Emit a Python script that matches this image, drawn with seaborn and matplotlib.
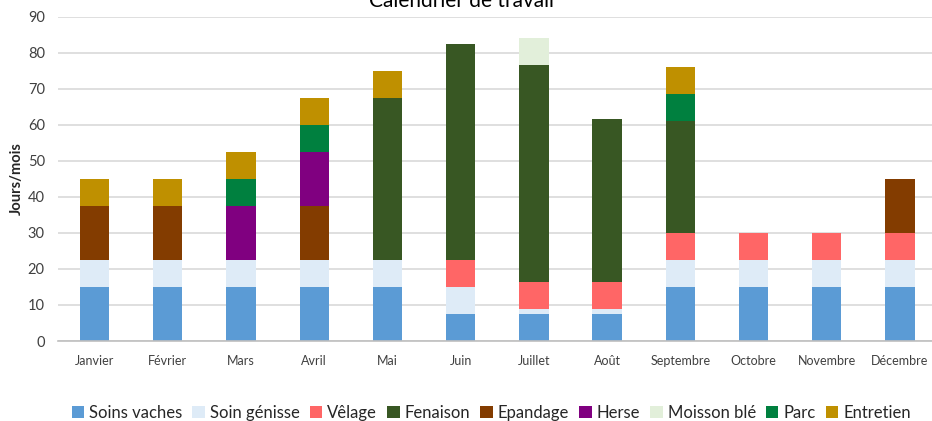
import numpy as np
import pandas as pd
import seaborn as sns
import matplotlib.pyplot as plt
from matplotlib.patches import Patch

mois = ["Janvier", "Février", "Mars", "Avril", "Mai", "Juin", "Juillet",
        "Août", "Septembre", "Octobre", "Novembre", "Décembre"]

soins_vaches = [15, 15, 15, 15, 15, 7.5, 7.5, 7.5, 15, 15, 15, 15]
soin_genisse = [7.5, 7.5, 7.5, 7.5, 7.5, 7.5, 1.5, 1.5, 7.5, 7.5, 7.5, 7.5]
velage = [0, 0, 0, 0, 0, 7.5, 7.5, 7.5, 7.5, 7.5, 7.5, 7.5]
fenaison = [0, 0, 0, 0, 45, 60, 60, 45, 31, 0, 0, 0]
epandage = [15, 15, 0, 15, 0, 0, 0, 0, 0, 0, 0, 15]
herse = [0, 0, 15, 15, 0, 0, 0, 0, 0, 0, 0, 0]
moisson_ble = [0, 0, 0, 0, 0, 0, 7.5, 0, 0, 0, 0, 0]
parc = [0, 0, 7.5, 7.5, 0, 0, 0, 0, 7.5, 0, 0, 0]
entretien = [7.5, 7.5, 7.5, 7.5, 7.5, 0, 0, 0, 7.5, 0, 0, 0]

series = [
    ("Soins vaches", soins_vaches, "#5B9BD5"),
    ("Soin génisse", soin_genisse, "#DEEBF7"),
    ("Vêlage", velage, "#FF6666"),
    ("Fenaison", fenaison, "#385723"),
    ("Epandage", epandage, "#833C00"),
    ("Herse", herse, "#800080"),
    ("Moisson blé", moisson_ble, "#E2EFDA"),
    ("Parc", parc, "#00803F"),
    ("Entretien", entretien, "#BF9000"),
]

sns.set_style("white")
plt.rcParams["font.family"] = ["Lato", "DejaVu Sans"]

fig = plt.figure(figsize=(9.32, 4.21), dpi=100)
ax = fig.add_axes([58 / 932, 0.19, 878.6 / 932, 0.7701])

bottom = np.zeros(len(mois))
for name, vals, col in series:
    df = pd.DataFrame({"mois": mois, "jours": vals})
    sns.barplot(data=df, x="mois", y="jours", color=col, width=0.4,
                bottom=bottom.copy(), linewidth=0, saturation=1, ax=ax)
    bottom += np.array(vals)

ax.set_ylim(0, 90)
ax.set_yticks(range(0, 91, 10))
ax.set_xlim(-0.5, 11.5)
ax.yaxis.grid(True, color="#D9D9D9", linewidth=1.2)
ax.set_axisbelow(True)
for s in ["top", "right", "left"]:
    ax.spines[s].set_visible(False)
ax.spines["bottom"].set_color("#BFBFBF")
ax.spines["bottom"].set_linewidth(1.2)

ax.tick_params(axis="x", length=0, pad=10, labelsize=9, labelcolor="#404040")
ax.tick_params(axis="y", length=0, pad=9.5, labelsize=10.5, labelcolor="#404040")
ax.set_xticks(np.arange(-0.5, 12, 1), minor=True)
ax.tick_params(axis="x", which="minor", length=5, color="#BFBFBF", width=1.2)
ax.set_xlabel("")
ax.set_ylabel("Jours/mois", fontsize=10.5, fontweight="bold")
ax.yaxis.set_label_coords(-34 / 878.6, 0.5)

fig.text(0.495, 1 - 7 / 421, "Calendrier de travail", ha="center",
         va="baseline", fontsize=15, color="#000000")

handles = [Patch(facecolor=c, edgecolor="none", label=n) for n, _, c in series]
fig.legend(handles=handles, loc="center", bbox_to_anchor=(0.527, 1 - 413 / 421),
           ncol=9, frameon=False, fontsize=12, handlelength=0.75,
           handleheight=0.75, handletextpad=0.3, columnspacing=0.6)

fig.savefig("out.png", dpi=100)
